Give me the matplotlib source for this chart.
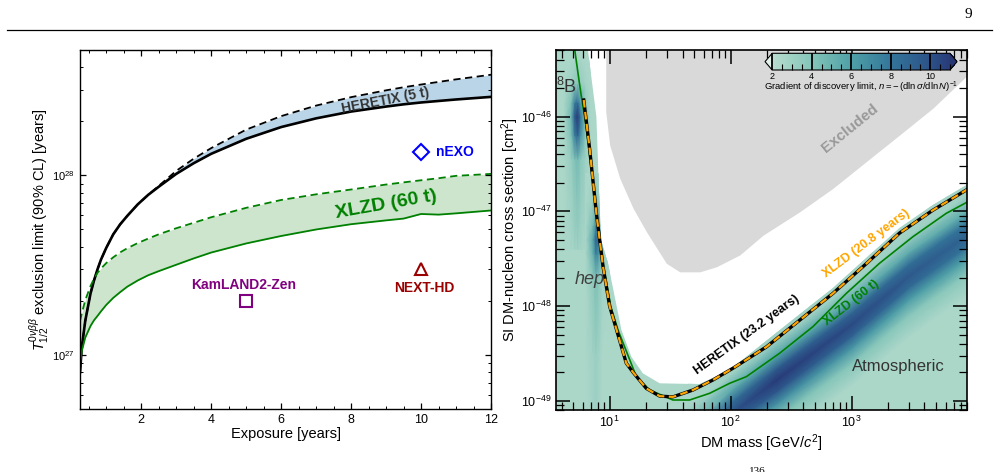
import numpy as np
import matplotlib
matplotlib.use("Agg")
import matplotlib.pyplot as plt
from matplotlib.colors import LinearSegmentedColormap, Normalize
from matplotlib.cm import ScalarMappable
from matplotlib.ticker import MultipleLocator, LogLocator, NullFormatter
from matplotlib.lines import Line2D

plt.rcParams['font.family'] = ['Liberation Sans', 'DejaVu Sans']
plt.rcParams['mathtext.fontset'] = 'custom'
plt.rcParams['mathtext.rm'] = 'Liberation Sans'
plt.rcParams['mathtext.it'] = 'Liberation Sans:italic'
plt.rcParams['mathtext.bf'] = 'Liberation Sans:bold'
plt.rcParams['mathtext.fallback'] = 'stixsans'

# ---------------- left panel: 0vbb exclusion limits vs exposure ----------------
exposure = [0.25, 0.3, 0.4, 0.55, 0.65, 0.75, 0.85, 1.0, 1.2, 1.4, 1.6, 1.9, 2.2, 2.5, 3.0, 3.5, 4, 5, 6, 7, 8,
            9, 9.5, 10, 10.5, 11, 12]
heretix_lo = [8.0e26, 1.1e27, 1.55e27, 2.2e27, 2.6e27, 3.0e27, 3.4e27, 3.95e27, 4.7e27, 5.35e27, 5.95e27, 6.9e27,
              7.8e27, 8.65e27, 1.02e28, 1.17e28, 1.32e28, 1.6e28, 1.86e28, 2.08e28, 2.27e28, 2.42e28, 2.49e28,
              2.55e28, 2.6e28, 2.65e28, 2.74e28]
heretix_hi = [8.0e26, 1.1e27, 1.55e27, 2.2e27, 2.6e27, 3.0e27, 3.4e27, 3.95e27, 4.7e27, 5.35e27, 5.95e27, 6.9e27,
              7.8e27, 8.75e27, 1.06e28, 1.24e28, 1.42e28, 1.8e28, 2.14e28, 2.45e28, 2.73e28, 2.98e28, 3.1e28,
              3.21e28, 3.32e28, 3.43e28, 3.64e28]
xlzd_lo = [9.0e26, 1.05e27, 1.25e27, 1.45e27, 1.56e27, 1.65e27, 1.75e27, 1.9e27, 2.08e27, 2.24e27, 2.4e27, 2.6e27,
           2.78e27, 2.93e27, 3.18e27, 3.45e27, 3.72e27, 4.18e27, 4.6e27, 5.0e27, 5.35e27, 5.62e27, 5.75e27,
           6.1e27, 6.05e27, 6.15e27, 6.38e27]
xlzd_hi = [1.55e27, 1.7e27, 2.02e27, 2.42e27, 2.66e27, 2.87e27, 3.03e27, 3.25e27, 3.5e27, 3.73e27, 3.93e27, 4.2e27,
           4.45e27, 4.7e27, 5.08e27, 5.45e27, 5.85e27, 6.6e27, 7.3e27, 7.85e27, 8.35e27, 8.9e27, 9.15e27,
           9.4e27, 9.65e27, 9.95e27, 1.02e28]

# other experiments: (exposure, sensitivity)
nexo = (10, 1.35e28)
kamland = (5, 2.0e27)
nexthd = (10, 3.0e27)

# ---------------- right panel: SI discovery limits ----------------
excl_mass = [9.27, 9.27, 10.0, 12.1, 15.6, 20.1, 29.4, 37.9, 55.5, 76.2, 119, 185, 372, 700, 1320, 2490, 4700, 9500]
excl_sigma = [6e-46, 1.13e-46, 5.0e-47, 2.24e-47, 1.08e-47, 6.1e-48, 2.83e-48, 2.3e-48, 2.3e-48, 2.6e-48,
              3.47e-48, 5.6e-48, 9.9e-48, 1.75e-47, 3.35e-47, 6.4e-47, 1.23e-46, 2.9e-46]

# discovery limits; HERETIX (23.2 yr) and XLZD (20.8 yr) lie on top of each other
dl_mass = [6.1, 6.84, 7.76, 8.81, 10.0, 11.4, 13.7, 15.6, 20.1, 25.9, 33.3, 48.8, 71.4, 104, 197, 372, 700,
           1320, 2490, 4700, 9000]
heretix_sigma = [1.5e-46, 4.45e-47, 9.5e-48, 2.6e-48, 9.9e-49, 5.6e-49, 2.5e-49, 2.0e-49, 1.35e-49, 1.12e-49,
                 1.1e-49, 1.3e-49, 1.66e-49, 2.2e-49, 3.7e-49, 7.1e-49, 1.36e-48, 2.8e-48, 5.9e-48, 1.03e-47, 1.7e-47]
xlzd208_sigma = list(heretix_sigma)

xlzd60_mass = [5.0, 5.14, 5.47, 5.83, 6.33, 6.75, 7.76, 8.9, 10.2, 11.7, 16.6, 21.4, 33.3, 45.8, 67, 98, 135,
               254, 479, 903, 1700, 3210, 6070, 9000]
xlzd60_sigma = [6e-46, 5.06e-46, 2.87e-46, 1.63e-46, 8.5e-47, 4.45e-47, 9.5e-48, 2.6e-48, 9.9e-49, 5.6e-49,
                1.8e-49, 1.3e-49, 1.02e-49, 1.02e-49, 1.2e-49, 1.53e-49, 1.8e-49, 3.18e-49, 6.07e-49, 1.36e-48,
                2.83e-48, 5.4e-48, 9.55e-48, 1.25e-47]

# upper edge of the coloured (neutrino fog) region
fog_mass = [3.0, 6.0, 6.6, 7.76, 8.43, 9.68, 11.0, 12.5, 15.1, 18.8, 25.9, 55.5, 98, 197, 372, 700, 1320, 2490,
            4700, 9500]
fog_sigma = [1e-45, 1e-45, 5.1e-46, 1e-46, 5e-48, 2.83e-48, 1.26e-48, 5.6e-49, 2.92e-49, 1.95e-49, 1.53e-49,
             1.5e-49, 2.11e-49, 4.3e-49, 8.2e-49, 1.55e-48, 3.2e-48, 6.7e-48, 1.17e-47, 2.0e-47]
fog_base = 2.5

# atmospheric band: ridge line and gradient n across it (rows = offset in decades of sigma)
atm_mass = [30, 100, 240, 1000, 3000, 9500]
atm_sigma = [2.3e-50, 7.2e-50, 1.66e-49, 6.4e-49, 2.1e-48, 5.9e-48]
atm_offset = [-0.65, -0.42, -0.25, -0.12, 0.0, 0.12, 0.25, 0.42, 0.65]
atm_n = [[2.5, 2.5, 2.5, 2.5, 2.5, 2.5],
         [2.5, 3.8, 4.0, 3.9, 3.8, 3.7],
         [2.5, 6.0, 6.8, 6.5, 6.2, 6.0],
         [2.5, 8.8, 9.8, 9.2, 8.7, 8.2],
         [2.5, 10.0, 11.0, 10.3, 9.6, 9.0],
         [2.5, 8.5, 9.5, 8.9, 8.4, 8.0],
         [2.5, 5.5, 6.0, 5.6, 5.4, 5.2],
         [2.5, 3.0, 3.1, 3.0, 3.0, 3.0],
         [2.5, 2.5, 2.5, 2.5, 2.5, 2.5]]

# 8B spot (log10 mass, log10 sigma grid)
b8_logm = [0.62, 0.68, 0.71, 0.735, 0.76, 0.80, 0.84]
b8_logs = [-47.4, -46.45, -46.2, -46.0, -45.85, -45.65, -45.4]
b8_n = [[2.5, 2.6, 2.8, 2.9, 2.8, 2.6, 2.5],
        [2.5, 3.3, 4.2, 4.6, 3.8, 3.0, 2.5],
        [2.5, 4.2, 7.5, 9.0, 6.5, 3.6, 2.5],
        [2.5, 4.8, 9.5, 11.0, 8.0, 3.9, 2.5],
        [2.5, 4.2, 7.5, 8.5, 6.0, 3.4, 2.5],
        [2.5, 3.0, 3.6, 4.0, 3.4, 2.8, 2.5],
        [2.5, 2.5, 2.6, 2.7, 2.6, 2.5, 2.5]]

# hep spot
hep_logm = [0.80, 0.86, 0.885, 0.91, 0.94, 1.0]
hep_logs = [-49.2, -48.5, -47.7, -47.45, -47.3, -47.15, -46.9, -46.6]
hep_n = [[2.5, 2.8, 3.0, 2.8, 2.5, 2.5],
         [2.5, 2.9, 3.2, 2.9, 2.5, 2.5],
         [2.5, 3.6, 4.3, 3.8, 2.9, 2.5],
         [2.5, 5.0, 7.5, 6.5, 3.5, 2.5],
         [2.5, 5.5, 9.0, 8.0, 4.0, 2.5],
         [2.5, 4.5, 7.0, 6.0, 3.4, 2.5],
         [2.5, 3.2, 3.8, 3.4, 2.8, 2.5],
         [2.5, 2.5, 2.8, 2.8, 2.5, 2.5]]

cmap_n = [2, 4, 6, 8, 10, 11]
cmap_colors = ['#b8ddce', '#84c5b9', '#4fa0a7', '#34769a', '#2c5289', '#283b79']

norm = Normalize(2, 11)
cmap = LinearSegmentedColormap.from_list(
    'fog', [((v - 2) / 9, c) for v, c in zip(cmap_n, cmap_colors)]).with_extremes(under='#e2f2eb', over='#263672')

# ---------------- figure ----------------
fig = plt.figure(figsize=(9.99, 4.72), dpi=100)
axL = fig.add_axes([0.0801, 0.1335, 0.4114, 0.7606])
axR = fig.add_axes([0.5566, 0.1314, 0.4114, 0.7627])

# left panel
axL.fill_between(exposure, heretix_lo, heretix_hi, color='#1f77b4', alpha=0.3, lw=0)
axL.fill_between(exposure, xlzd_lo, xlzd_hi, color='green', alpha=0.2, lw=0)
axL.plot(exposure, heretix_lo, color='black', lw=1.9)
axL.plot(exposure, heretix_hi, color='black', lw=1.3, ls='--', dashes=(4, 2.5))
axL.plot(exposure, xlzd_lo, color='green', lw=1.3)
axL.plot(exposure, xlzd_hi, color='green', lw=1.3, ls='--', dashes=(4, 2.5))

axL.plot(*nexo, marker='D', ms=8.5, mfc='none', mec='blue', mew=1.5)
axL.plot(*kamland, marker='s', ms=8, mfc='none', mec='purple', mew=1.5)
axL.plot(*nexthd, marker='^', ms=8, mfc='none', mec='#9b0000', mew=1.5)
axL.text(10.43, nexo[1], 'nEXO', color='blue', fontsize=10, fontweight='bold', ha='left', va='center')
axL.text(4.92, 2.44e27, 'KamLAND2-Zen', color='purple', fontsize=10, fontweight='bold', ha='center', va='center')
axL.text(10.08, 2.37e27, 'NEXT-HD', color='#9b0000', fontsize=10, fontweight='bold', ha='center', va='center')
axL.text(8.99, 2.61e28, 'HERETIX (5 t)', color='#333333', fontsize=10, fontweight='bold', rotation=11,
         ha='center', va='center', rotation_mode='anchor')
axL.text(8.99, 6.88e27, 'XLZD (60 t)', color='green', fontsize=14, fontweight='bold', rotation=10,
         ha='center', va='center', rotation_mode='anchor')

axL.set_yscale('log')
axL.set_xlim(0.25, 12)
axL.set_ylim(5e26, 5e28)
axL.xaxis.set_major_locator(MultipleLocator(2))
axL.xaxis.set_minor_locator(MultipleLocator(0.5))
axL.tick_params(which='both', direction='in', top=True, right=True)
axL.tick_params(which='major', length=4, width=0.9)
axL.tick_params(which='minor', length=2, width=0.7)
axL.tick_params(axis='x', labelsize=9)
axL.tick_params(axis='y', labelsize=8)
axL.set_xlabel('Exposure [years]', fontsize=10.5, labelpad=1)
axL.set_ylabel(r'$T^{0\nu\beta\beta}_{1/2}$ exclusion limit (90% CL) [years]', fontsize=10.5, labelpad=1)
for s in axL.spines.values():
    s.set_linewidth(1.0)

# right panel
axR.set_xscale('log')
axR.set_yscale('log')
axR.fill_between(excl_mass, excl_sigma, 1e-45, color='#d9d9d9', lw=0, zorder=0.5)
fog = axR.fill_between(fog_mass, 1e-52, fog_sigma, color=cmap(norm(fog_base)), lw=0, zorder=1)
clip = fog.get_paths()[0]

X = np.tile(atm_mass, (len(atm_offset), 1))
Y = np.outer(10.0 ** np.array(atm_offset), atm_sigma)
band = axR.pcolormesh(X, Y, np.array(atm_n), shading='gouraud', cmap=cmap, norm=norm, zorder=1.1)
band.set_clip_path(clip, axR.transData)

for lm, ls, nn in [(b8_logm, b8_logs, b8_n), (hep_logm, hep_logs, hep_n)]:
    MX, MY = np.meshgrid(10.0 ** np.array(lm), 10.0 ** np.array(ls))
    spot = axR.pcolormesh(MX, MY, np.array(nn), shading='gouraud', cmap=cmap, norm=norm, zorder=1.2)
    spot.set_clip_path(clip, axR.transData)

axR.plot(xlzd60_mass, xlzd60_sigma, color='green', lw=1.2, zorder=2)
axR.plot(dl_mass, heretix_sigma, color='black', lw=2.4, zorder=2.5)
axR.plot(dl_mass, xlzd208_sigma, color='orange', lw=1.6, ls='--', dashes=(3.4, 2.0), zorder=2.6)

axR.text(4.4, 2.07e-46, r'$^{8}$B', fontsize=13, color='#333333', ha='center', va='center')
axR.text(6.84, 1.89e-48, 'hep', fontsize=13, style='italic', color='#404040', ha='center', va='center', zorder=3)
axR.text(2415, 2.32e-49, 'Atmospheric', fontsize=12, color='#333333', ha='center', va='center', zorder=3)
axR.text(962, 7.5e-47, 'Excluded', fontsize=11, fontweight='bold', color='#999999', rotation=39,
         ha='center', va='center', rotation_mode='anchor')
axR.text(135, 4.95e-49, 'HERETIX (23.2 years)', fontsize=9, fontweight='bold', color='black', rotation=36,
         ha='center', va='center', rotation_mode='anchor', zorder=3)
axR.text(1320, 4.6e-48, 'XLZD (20.8 years)', fontsize=9, fontweight='bold', color='orange', rotation=37,
         ha='center', va='center', rotation_mode='anchor', zorder=3)
axR.text(995, 1.07e-48, 'XLZD (60 t)', fontsize=9, fontweight='bold', color='green', rotation=38,
         ha='center', va='center', rotation_mode='anchor', zorder=3)

axR.set_xlim(3.6, 9000)
axR.set_ylim(8e-50, 5.06e-46)
axR.xaxis.set_major_locator(LogLocator(base=10))
axR.xaxis.set_minor_locator(LogLocator(base=10, subs=np.arange(2, 10)))
axR.yaxis.set_minor_locator(LogLocator(base=10, subs=np.arange(2, 10)))
axR.xaxis.set_minor_formatter(NullFormatter())
axR.yaxis.set_minor_formatter(NullFormatter())
axR.tick_params(which='both', direction='in', top=True, right=True, labelsize=9)
axR.tick_params(which='major', length=10, width=1.1)
axR.tick_params(which='minor', length=5.5, width=0.9)
axR.set_xlabel(r'DM mass [GeV/$c^2$]', fontsize=10.5, labelpad=2)
axR.set_ylabel(r'SI DM-nucleon cross section [cm$^2$]', fontsize=10.5, labelpad=0)
for s in axR.spines.values():
    s.set_linewidth(1.2)
    s.set_zorder(4)

# colorbar inset
cax = fig.add_axes([0.7658, 0.8517, 0.1922, 0.0354])
cb = fig.colorbar(ScalarMappable(norm=norm, cmap=cmap), cax=cax, orientation='horizontal',
                  extend='both', extendfrac=0.04, ticks=[2, 4, 6, 8, 10])
cb.minorticks_on()
cax.tick_params(which='major', direction='in', length=12, width=1.3, labelsize=6.5, pad=1.5)
cax.tick_params(which='minor', direction='in', length=4, width=0.8)
cb.set_label(r'Gradient of discovery limit, $n = -\,(\mathrm{d}\ln\sigma/\mathrm{d}\ln N)^{-1}$',
             fontsize=6.8, labelpad=-1)
cb.outline.set_linewidth(0.8)

# page furniture
fig.text(968 / 999, 1 - 14 / 472, '9', fontsize=11, family='Liberation Serif', ha='center', va='center')
fig.add_artist(Line2D([0.007, 0.993], [1 - 30 / 472] * 2, color='black', lw=0.9))
fig.text(757 / 999, 1 - 467 / 472, '136', fontsize=8, family='Liberation Serif', ha='center', va='top')

fig.savefig('out.png', dpi=100)
